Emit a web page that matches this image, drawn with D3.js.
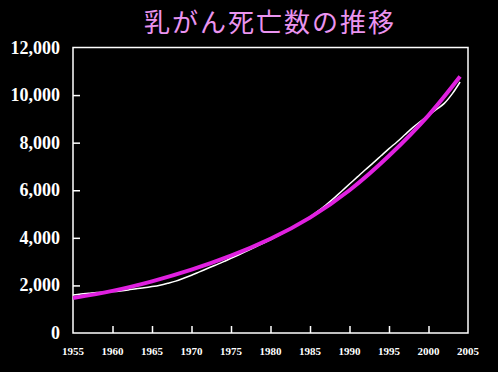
<!DOCTYPE html>
<html>
<head>
<meta charset="utf-8">
<script src="https://cdn.jsdelivr.net/npm/d3@7"></script>
<style>
  body { margin: 0; background: #000; }
  svg { display: block; }
</style>
</head>
<body>
<script>
// 乳がん死亡数 (actual, white) and trend curve (magenta)
const years = d3.range(1955, 2005);
const deaths = [1600, 1640, 1670, 1700, 1720, 1740, 1770, 1810, 1860, 1900,
                1950, 2010, 2090, 2180, 2300, 2430, 2570, 2710, 2850, 2990,
                3140, 3290, 3440, 3600, 3760, 3920, 4090, 4270, 4460, 4670,
                4880, 5120, 5380, 5660, 5960, 6260, 6560, 6860, 7150, 7450,
                7750, 8030, 8330, 8630, 8900, 9150, 9400, 9650, 10050, 10550];
const trendYears = [1955, 1960, 1965, 1970, 1975, 1980, 1985, 1990, 1995, 2000, 2004];
const trend = [1470, 1770, 2170, 2660, 3250, 3960, 4850, 6000, 7450, 9150, 10780];
const yTicks = [0, 2000, 4000, 6000, 8000, 10000, 12000];
const xTicks = [1955, 1960, 1965, 1970, 1975, 1980, 1985, 1990, 1995, 2000, 2005];

const W = 498, H = 372;
const margin = { top: 47.5, right: 30, bottom: 39, left: 73 };
const width = W - margin.left - margin.right;
const height = H - margin.top - margin.bottom;

const svg = d3.select("body").append("svg").attr("width", W).attr("height", H);
svg.append("rect").attr("width", W).attr("height", H).attr("fill", "#000");

svg.append("text")
  .attr("x", 270).attr("y", 32)
  .attr("text-anchor", "middle")
  .attr("fill", "#ea94f0")
  .attr("font-family", "'Noto Sans CJK JP', sans-serif")
  .attr("font-size", 26)
  .attr("letter-spacing", 2)
  .text("乳がん死亡数の推移");

const x = d3.scaleLinear().domain([1955, 2005]).range([0, width]);
const y = d3.scaleLinear().domain([0, 12000]).range([height, 0]);

const g = svg.append("g").attr("transform", `translate(${margin.left},${margin.top})`);

// frame
g.append("rect").attr("width", width).attr("height", height)
  .attr("fill", "none").attr("stroke", "#fff").attr("stroke-width", 1.5);

// y axis: inward ticks, labels on the left
const yAxis = g.append("g")
  .call(d3.axisRight(y).tickValues(yTicks).tickSize(7).tickFormat(""));
yAxis.select(".domain").remove();
yAxis.selectAll("line").attr("stroke", "#fff").attr("stroke-width", 1.5);
yAxis.selectAll(".tick").filter(d => d === 0 || d === 12000).select("line").remove();

g.selectAll(".ylab").data(yTicks).enter().append("text")
  .attr("x", -13).attr("y", d => y(d) + 6)
  .attr("text-anchor", "end")
  .attr("fill", "#fff")
  .attr("font-family", "'Liberation Serif', 'Times New Roman', serif")
  .attr("font-weight", "bold")
  .attr("font-size", 18)
  .text(d => d3.format(",")(d));

// x axis: ticks pointing up
const xAxis = g.append("g").attr("transform", `translate(0,${height})`)
  .call(d3.axisTop(x).tickValues(xTicks).tickSize(7).tickFormat(""));
xAxis.select(".domain").remove();
xAxis.selectAll("line").attr("stroke", "#fff").attr("stroke-width", 1.5);
xAxis.selectAll(".tick").filter(d => d === 1955 || d === 2005).select("line").remove();

g.selectAll(".xlab").data(xTicks).enter().append("text")
  .attr("x", d => x(d)).attr("y", height + 22)
  .attr("text-anchor", "middle")
  .attr("fill", "#fff")
  .attr("font-family", "'Liberation Serif', 'Times New Roman', serif")
  .attr("font-weight", "bold")
  .attr("font-size", 11)
  .text(d => d);

// actual line
const line = d3.line().x((d, i) => x(years[i])).y(d => y(d)).curve(d3.curveMonotoneX);
g.append("path").datum(deaths)
  .attr("d", line)
  .attr("fill", "none").attr("stroke", "#fff").attr("stroke-width", 1.5);

// trend curve
const tline = d3.line().x((d, i) => x(trendYears[i])).y(d => y(d)).curve(d3.curveNatural);
g.append("path").datum(trend)
  .attr("d", tline)
  .attr("fill", "none").attr("stroke", "#e020e0").attr("stroke-width", 4);
</script>
</body>
</html>
